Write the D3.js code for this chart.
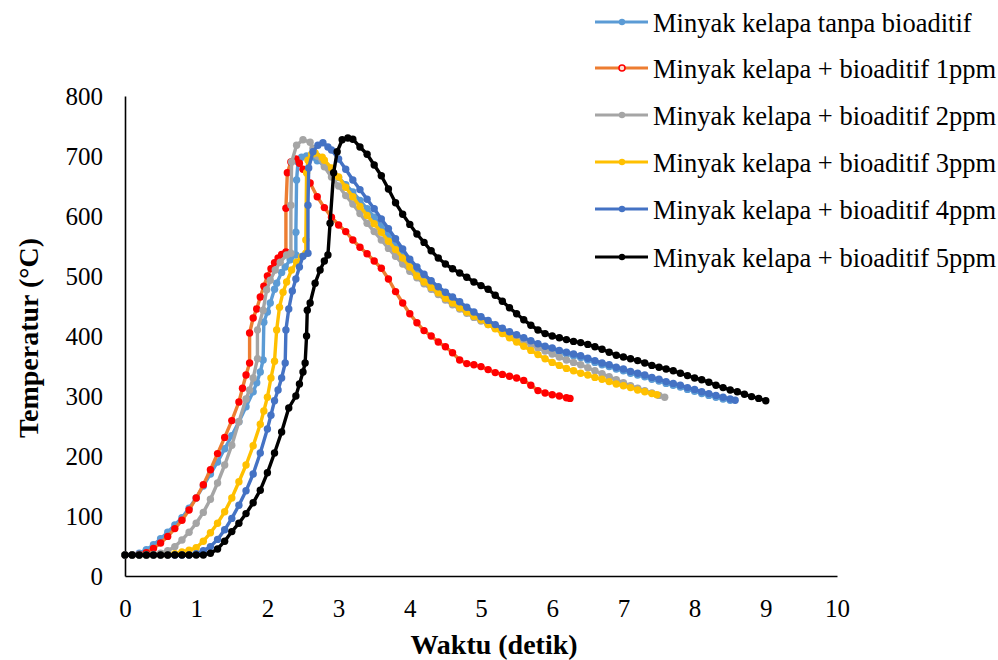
<!DOCTYPE html>
<html>
<head>
<meta charset="utf-8">
<script src="https://cdn.jsdelivr.net/npm/d3@7"></script>
<style>
  html, body { margin: 0; padding: 0; background: #fff; }
  svg { display: block; }
  text { font-family: "Liberation Serif", "Times New Roman", serif; fill: #000; }
</style>
</head>
<body>
<svg id="chart" width="998" height="660"></svg>
<script>
// ---------- DATA (time in s, temperature in °C) ----------
const seriesNames = [
  "Minyak kelapa tanpa bioaditif",
  "Minyak kelapa + bioaditif 1ppm",
  "Minyak kelapa + bioaditif 2ppm",
  "Minyak kelapa + bioaditif 3ppm",
  "Minyak kelapa + bioaditif 4ppm",
  "Minyak kelapa + bioaditif 5ppm"
];
const xTicks = [0,1,2,3,4,5,6,7,8,9,10];
const yTicks = [0,100,200,300,400,500,600,700,800];

const tanpa = [[0,35],[0.1,35],[0.2,38],[0.3,44],[0.4,52],[0.5,62],[0.6,73],[0.7,85],[0.8,97],[0.9,113],
 [1.0,130],[1.1,150],[1.2,170],[1.3,190],[1.4,212],[1.5,234],[1.6,257],[1.7,282],[1.8,307],[1.85,322],
 [1.9,340],[1.94,360],[1.95,423],[2.0,440],[2.04,455],[2.1,478],[2.13,488],[2.2,506],[2.25,515],[2.32,527],
 [2.4,535],[2.4,573],[2.41,660],[2.43,690],[2.48,698],[2.55,700],[2.6,698],[2.7,692],[2.8,685],[2.9,675],
 [3.0,664],[3.1,652],[3.2,640],[3.3,626],[3.4,612],[3.5,598],[3.6,583],[3.7,568],[3.8,553],[3.9,538],
 [4.0,523],[4.1,510],[4.2,498],[4.3,487],[4.4,477],[4.5,468],[4.6,460],[4.7,452],[4.8,443],[4.9,435],
 [5.0,427],[5.1,421],[5.2,414],[5.3,408],[5.4,403],[5.5,399],[5.6,394],[5.7,389],[5.8,384],[5.9,380],
 [6.0,377],[6.1,373],[6.2,370],[6.3,367],[6.4,364],[6.5,360],[6.6,356],[6.7,352],[6.8,349],[6.9,345],
 [7.0,342],[7.1,338],[7.2,335],[7.3,332],[7.4,328],[7.5,325],[7.6,321],[7.7,318],[7.8,315],[7.9,311],
 [8.0,308],[8.1,304],[8.2,301],[8.3,298],[8.4,295],[8.5,293]];

const ppm1 = [[0,35],[0.1,35],[0.2,36],[0.3,39],[0.4,46],[0.5,55],[0.6,66],[0.7,79],[0.8,93],[0.9,110],
 [1.0,130],[1.1,152],[1.2,177],[1.3,204],[1.4,231],[1.5,259],[1.6,290],[1.65,313],[1.7,335],[1.75,355],
 [1.75,405],[1.8,430],[1.85,445],[1.9,465],[1.95,483],[2.0,500],[2.05,512],[2.1,522],[2.15,530],[2.2,536],
 [2.26,540],[2.26,613],[2.28,672],[2.33,690],[2.4,695],[2.45,688],[2.5,678],[2.6,655],[2.7,632],[2.8,614],
 [2.9,598],[3.0,585],[3.1,574],[3.2,560],[3.3,548],[3.4,537],[3.5,525],[3.6,513],[3.7,495],[3.8,474],
 [3.9,455],[4.0,437],[4.1,422],[4.2,409],[4.3,400],[4.4,390],[4.5,382],[4.6,372],[4.7,360],[4.8,354],
 [4.9,352],[5.0,349],[5.1,344],[5.2,339],[5.3,336],[5.4,333],[5.5,330],[5.6,326],[5.7,318],[5.8,309],
 [5.9,305],[6.0,302],[6.1,300],[6.2,297],[6.25,296]];

const ppm2 = [[0,35],[0.1,35],[0.2,35],[0.3,35],[0.4,36],[0.5,38],[0.6,42],[0.7,49],[0.8,60],[0.9,73],
 [1.0,88],[1.1,106],[1.2,128],[1.3,155],[1.4,185],[1.5,218],[1.6,257],[1.7,295],[1.75,310],[1.8,330],
 [1.86,362],[1.86,410],[1.94,443],[1.99,477],[2.04,493],[2.11,510],[2.18,523],[2.27,535],[2.33,538],[2.33,618],
 [2.34,690],[2.41,718],[2.5,727],[2.6,723],[2.64,713],[2.7,700],[2.8,682],[2.9,665],[3.0,650],[3.1,634],
 [3.2,620],[3.3,604],[3.4,588],[3.5,574],[3.6,560],[3.7,546],[3.8,533],[3.9,520],[4.0,508],[4.1,497],
 [4.2,487],[4.3,478],[4.4,469],[4.5,460],[4.6,452],[4.7,445],[4.8,438],[4.9,431],[5.0,425],[5.1,419],
 [5.2,413],[5.3,407],[5.4,401],[5.5,396],[5.6,391],[5.7,386],[5.8,380],[5.9,375],[6.0,370],[6.1,365],
 [6.2,360],[6.3,356],[6.4,352],[6.5,347],[6.6,342],[6.7,337],[6.8,332],[6.9,327],[7.0,322],[7.1,317],
 [7.2,313],[7.3,309],[7.4,305],[7.5,301],[7.58,298]];

const ppm3 = [[0,35],[0.1,35],[0.2,35],[0.3,35],[0.4,35],[0.5,35],[0.6,35],[0.7,37],[0.8,40],[0.9,43],
 [1.0,47],[1.1,58],[1.2,72],[1.3,88],[1.4,107],[1.5,130],[1.6,157],[1.7,185],[1.8,217],[1.9,253],
 [1.95,275],[2.0,298],[2.05,330],[2.1,358],[2.13,410],[2.17,448],[2.22,473],[2.27,490],[2.34,510],[2.41,523],
 [2.48,532],[2.54,538],[2.54,560],[2.55,672],[2.57,693],[2.62,703],[2.67,705],[2.77,698],[2.8,693],[2.9,680],
 [3.0,665],[3.1,648],[3.2,632],[3.3,616],[3.4,601],[3.5,587],[3.6,573],[3.7,558],[3.8,544],[3.9,530],
 [4.0,515],[4.1,500],[4.2,490],[4.3,481],[4.4,472],[4.5,463],[4.6,455],[4.7,447],[4.8,440],[4.9,433],
 [5.0,427],[5.1,419],[5.2,412],[5.3,404],[5.4,397],[5.5,390],[5.6,383],[5.7,376],[5.8,369],[5.9,362],
 [6.0,356],[6.1,351],[6.2,346],[6.3,342],[6.4,338],[6.5,335],[6.6,331],[6.7,328],[6.8,324],[6.9,320],
 [7.0,317],[7.1,314],[7.2,310],[7.3,307],[7.4,304],[7.47,302]];

const ppm4 = [[0,35],[0.1,35],[0.2,35],[0.3,35],[0.4,35],[0.5,35],[0.6,35],[0.7,35],[0.8,35],[0.9,35],
 [1.0,37],[1.1,42],[1.2,49],[1.3,61],[1.4,77],[1.5,96],[1.6,118],[1.7,142],[1.8,170],[1.9,205],
 [2.0,245],[2.05,268],[2.1,292],[2.15,310],[2.2,330],[2.25,355],[2.26,410],[2.3,445],[2.35,475],[2.4,495],
 [2.45,515],[2.5,533],[2.57,538],[2.57,618],[2.58,680],[2.64,707],[2.71,718],[2.78,722],[2.85,715],[2.9,710],
 [3.0,695],[3.1,678],[3.2,660],[3.3,644],[3.4,628],[3.5,612],[3.6,595],[3.7,579],[3.8,562],[3.9,545],
 [4.0,528],[4.1,515],[4.2,503],[4.3,492],[4.4,482],[4.5,473],[4.6,465],[4.7,457],[4.8,448],[4.9,440],
 [5.0,432],[5.1,426],[5.2,419],[5.3,413],[5.4,407],[5.5,402],[5.6,397],[5.7,392],[5.8,387],[5.9,383],
 [6.0,380],[6.1,376],[6.2,373],[6.3,370],[6.4,367],[6.5,363],[6.6,359],[6.7,355],[6.8,352],[6.9,348],
 [7.0,345],[7.1,341],[7.2,338],[7.3,335],[7.4,331],[7.5,328],[7.6,324],[7.7,321],[7.8,318],[7.9,314],
 [8.0,311],[8.1,307],[8.2,304],[8.3,301],[8.4,298],[8.5,295],[8.57,293]];

const ppm5 = [[0,35],[0.1,35],[0.2,35],[0.3,35],[0.4,35],[0.5,35],[0.6,35],[0.7,35],[0.8,35],[0.9,35],
 [1.0,35],[1.1,35],[1.2,38],[1.3,45],[1.4,58],[1.5,74],[1.6,88],[1.7,104],[1.8,122],[1.9,143],
 [2.0,172],[2.1,205],[2.2,240],[2.3,280],[2.4,300],[2.45,320],[2.5,340],[2.53,355],[2.55,400],[2.56,443],
 [2.6,455],[2.67,488],[2.74,510],[2.8,525],[2.85,535],[2.88,588],[2.93,672],[2.98,707],[3.05,727],[3.13,730],
 [3.2,728],[3.3,715],[3.4,703],[3.5,685],[3.6,667],[3.7,645],[3.8,622],[3.9,603],[4.0,586],[4.1,570],
 [4.2,556],[4.3,542],[4.4,530],[4.5,520],[4.6,512],[4.7,505],[4.8,498],[4.9,490],[5.0,484],[5.1,478],
 [5.2,468],[5.3,458],[5.4,447],[5.5,437],[5.6,427],[5.7,418],[5.8,410],[5.9,404],[6.0,400],[6.1,397],
 [6.2,394],[6.3,391],[6.4,389],[6.5,386],[6.6,382],[6.7,378],[6.8,373],[6.9,368],[7.0,365],[7.1,362],
 [7.2,359],[7.3,355],[7.4,351],[7.5,348],[7.6,345],[7.7,342],[7.8,338],[7.9,334],[8.0,330],[8.1,327],
 [8.2,323],[8.3,318],[8.4,314],[8.5,310],[8.6,307],[8.7,303],[8.8,299],[8.9,296],[9.0,292]];

const seriesData = [tanpa, ppm1, ppm2, ppm3, ppm4, ppm5];
const lineColors   = ["#5B9BD5", "#ED7D31", "#A5A5A5", "#FFC000", "#4472C4", "#000000"];
const markerColors = ["#5B9BD5", "#FF0000", "#A5A5A5", "#FFC000", "#4472C4", "#000000"];

// ---------- LAYOUT ----------
const svg = d3.select("#chart");
const plot = { left: 125, right: 837, top: 96, bottom: 576 };

const x = d3.scaleLinear().domain([0, 10]).range([plot.left, plot.right]);
const y = d3.scaleLinear().domain([0, 800]).range([plot.bottom, plot.top]);

// axes
const xAxis = d3.axisBottom(x).tickValues(xTicks).tickSize(0).tickPadding(0).tickFormat(d3.format("d"));
const yAxis = d3.axisLeft(y).tickValues(yTicks).tickSize(0).tickPadding(0).tickFormat(d3.format("d"));

const gx = svg.append("g").attr("transform", `translate(0,${plot.bottom})`).call(xAxis);
gx.attr("font-family", null);
gx.select(".domain").attr("stroke", "#000").attr("stroke-width", 1.6);
gx.selectAll(".tick text").style("font-size", "25px").style("font-family", "'Liberation Serif', serif")
  .attr("dy", null).attr("y", 41);

const gy = svg.append("g").attr("transform", `translate(${plot.left},0)`).call(yAxis);
gy.attr("font-family", null);
gy.select(".domain").attr("stroke", "#000").attr("stroke-width", 1.6);
gy.selectAll(".tick text").style("font-size", "25px").style("font-family", "'Liberation Serif', serif")
  .attr("x", -22).attr("dy", "0.33em");

// titles
svg.append("text").attr("x", 494).attr("y", 654).attr("text-anchor", "middle")
  .attr("font-size", 28).attr("font-weight", "bold").text("Waktu (detik)");
svg.append("text").attr("transform", "translate(38,338) rotate(-90)").attr("text-anchor", "middle")
  .attr("font-size", 28).attr("font-weight", "bold").text("Temperatur (°C)");

// series
const line = d3.line().x(d => x(d[0])).y(d => y(d[1]));
seriesData.forEach((data, i) => {
  const g = svg.append("g");
  g.append("path").datum(data).attr("d", line)
    .attr("fill", "none").attr("stroke", lineColors[i]).attr("stroke-width", 3.4)
    .attr("stroke-linejoin", "round").attr("stroke-linecap", "round");
  g.selectAll("circle").data(data).enter().append("circle")
    .attr("cx", d => x(d[0])).attr("cy", d => y(d[1])).attr("r", 3.7)
    .attr("fill", markerColors[i]);
});

// legend
const legendY = [22, 68, 115, 162, 209, 257];
const lg = svg.append("g");
seriesNames.forEach((name, i) => {
  const yy = legendY[i];
  lg.append("line").attr("x1", 595).attr("x2", 648).attr("y1", yy).attr("y2", yy)
    .attr("stroke", lineColors[i]).attr("stroke-width", 3);
  if (i === 1) {
    lg.append("circle").attr("cx", 622).attr("cy", yy).attr("r", 3)
      .attr("fill", "#fbe3d6").attr("stroke", "#FF0000").attr("stroke-width", 1.5);
  } else {
    lg.append("circle").attr("cx", 622).attr("cy", yy).attr("r", 3.2).attr("fill", markerColors[i]);
  }
  lg.append("text").attr("x", 653).attr("y", yy + 10).attr("font-size", 26.5).text(name);
});
</script>
</body>
</html>
